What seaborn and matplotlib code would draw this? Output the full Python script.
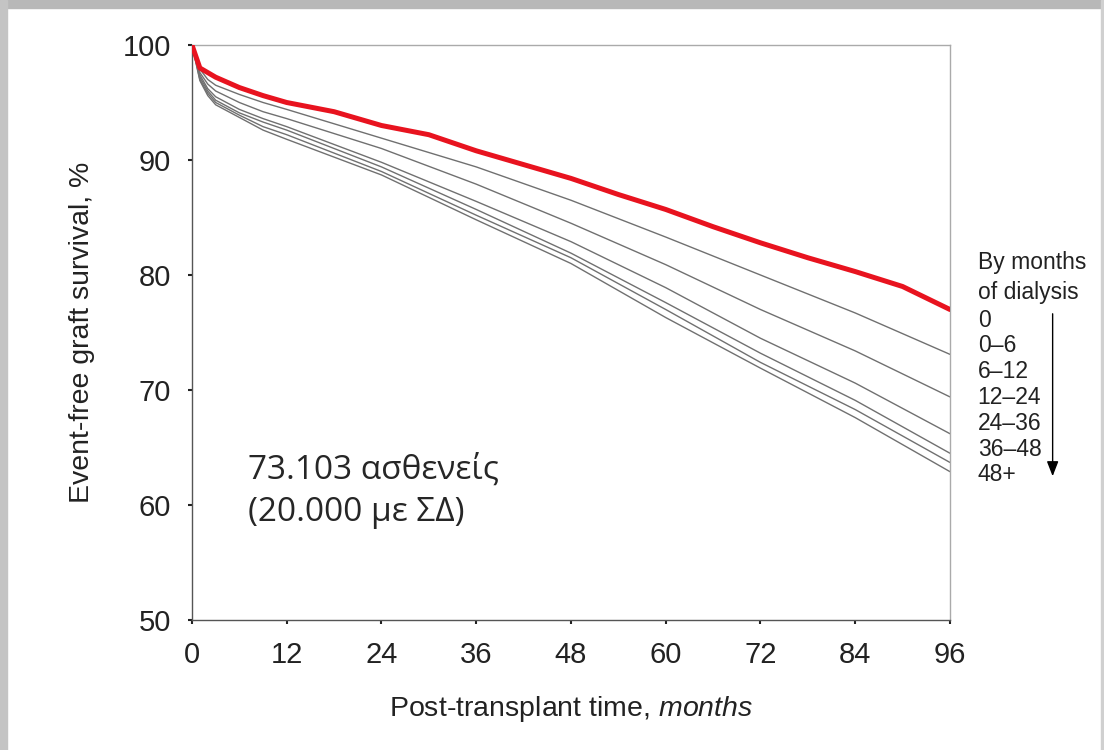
import numpy as np
import pandas as pd
import matplotlib
matplotlib.use("Agg")
import matplotlib.pyplot as plt
from matplotlib.patches import Rectangle
import seaborn as sns

# ---- data ----
red_months = [0, 1, 3, 6, 9, 12, 15, 18, 21, 24, 30, 36, 42, 48, 54, 60, 66, 72, 78, 84, 90, 96]
red_surv = [100, 98.0, 97.2, 96.3, 95.6, 95.0, 94.6, 94.2, 93.6, 93.0, 92.2, 90.8, 89.6, 88.4, 87.0, 85.7, 84.2, 82.8, 81.5, 80.3, 79.0, 77.0]

months = [0, 1, 2, 3, 6, 9, 12, 24, 36, 48, 60, 72, 84, 96]
g_0_6 = [100, 97.9, 97.0, 96.5, 95.7, 95.0, 94.4, 91.9, 89.4, 86.5, 83.3, 80.0, 76.7, 73.1]
g_6_12 = [100, 97.6, 96.6, 96.0, 95.0, 94.2, 93.6, 91.0, 87.9, 84.5, 80.9, 77.0, 73.4, 69.4]
g_12_24 = [100, 97.4, 96.2, 95.5, 94.4, 93.6, 92.9, 89.8, 86.4, 82.9, 78.9, 74.5, 70.6, 66.2]
g_24_36 = [100, 97.2, 96.0, 95.2, 94.1, 93.3, 92.6, 89.4, 85.7, 81.9, 77.6, 73.2, 69.1, 64.5]
g_36_48 = [100, 97.0, 95.8, 95.0, 93.9, 92.9, 92.2, 89.0, 85.2, 81.5, 77.0, 72.4, 68.3, 63.7]
g_48p = [100, 96.9, 95.6, 94.8, 93.7, 92.6, 91.8, 88.7, 84.8, 81.0, 76.3, 71.9, 67.6, 62.9]

groups = ["0–6", "6–12", "12–24", "24–36", "36–48", "48+"]
gray_series = [g_0_6, g_6_12, g_12_24, g_24_36, g_36_48, g_48p]
legend_title = ["By months", "of dialysis"]
legend_labels = ["0", "0–6", "6–12", "12–24", "24–36", "36–48", "48+"]
x_ticks = [0, 12, 24, 36, 48, 60, 72, 84, 96]
y_ticks = [50, 60, 70, 80, 90, 100]
note_text = "73.103 ασθενείς\n(20.000 με ΣΔ)"

# ---- style ----
sns.set_style("ticks")
plt.rcParams["font.family"] = ["Liberation Sans", "DejaVu Sans"]
plt.rcParams["mathtext.fontset"] = "custom"
plt.rcParams["mathtext.it"] = "Liberation Sans:italic"
plt.rcParams["mathtext.rm"] = "Liberation Sans"

fig = plt.figure(figsize=(11.04, 7.5), dpi=100)
ax = fig.add_axes([0.1739, 0.1733, 0.8605 - 0.1739, 0.94 - 0.1733])

gray_df = pd.DataFrame({
    "month": np.tile(months, len(groups)),
    "surv": np.concatenate(gray_series),
    "group": np.repeat(groups, len(months)),
})
red_df = pd.DataFrame({"month": red_months, "surv": red_surv})

sns.lineplot(data=gray_df, x="month", y="surv", units="group", estimator=None,
             color="#707070", linewidth=1.0, ax=ax, legend=False)
sns.lineplot(data=red_df, x="month", y="surv", color="#e8131f", linewidth=3.6,
             ax=ax, legend=False, zorder=5)

ax.set_xlim(0, 96)
ax.set_ylim(50, 100)
ax.set_xticks(x_ticks)
ax.set_yticks(y_ticks)
ax.tick_params(axis="both", labelsize=21, length=3, width=1.5, color="#222222",
               direction="out", labelcolor="#222222")
ax.tick_params(axis="x", pad=12)
ax.tick_params(axis="y", pad=12)
for s in ["left", "bottom"]:
    ax.spines[s].set_color("#555555")
    ax.spines[s].set_linewidth(1.0)
for s in ["top", "right"]:
    ax.spines[s].set_color("#aaaaaa")
    ax.spines[s].set_linewidth(1.0)

ax.set_xlabel("Post-transplant time, $\\it{months}$", fontsize=20.5, labelpad=18,
              color="#222222")
ax.set_ylabel("Event-free graft survival, %", fontsize=20.5, labelpad=20,
              color="#222222")

# note
ax.text(7.1, 61.2, note_text, fontsize=24, family=["Open Sans", "DejaVu Sans"],
        va="center", ha="left", linespacing=1.4)

# legend-like labels on the right
def py2v(py):
    return 100 - (py - 45) / 11.5

lx = 99.5
title_y = [py2v(262), py2v(292)]
for t, yy in zip(legend_title, title_y):
    ax.text(lx, yy, t, fontsize=16.5, va="center", ha="left", clip_on=False, color="#222222")
for i, lab in enumerate(legend_labels):
    ax.text(lx, py2v(320 + i * 25.8), lab, fontsize=16.5, va="center", ha="left",
            clip_on=False, color="#222222")
ax.annotate("", xy=(109.0, py2v(479)), xytext=(109.0, py2v(311)),
            xycoords="data", textcoords="data", annotation_clip=False,
            arrowprops=dict(arrowstyle="-|>,head_length=0.9,head_width=0.35",
                            color="black", lw=1.0))

# frame shadow of the picture
fig.patches.append(Rectangle((0, 0.99), 1, 0.01, transform=fig.transFigure,
                             color="#b8b8b8", zorder=-1))
fig.patches.append(Rectangle((0, 0), 0.006, 1, transform=fig.transFigure,
                             color="#c4c4c4", zorder=-1))
fig.patches.append(Rectangle((0.997, 0), 0.003, 1, transform=fig.transFigure,
                             color="#d0d0d0", zorder=-1))

fig.savefig("out.png", dpi=100)
